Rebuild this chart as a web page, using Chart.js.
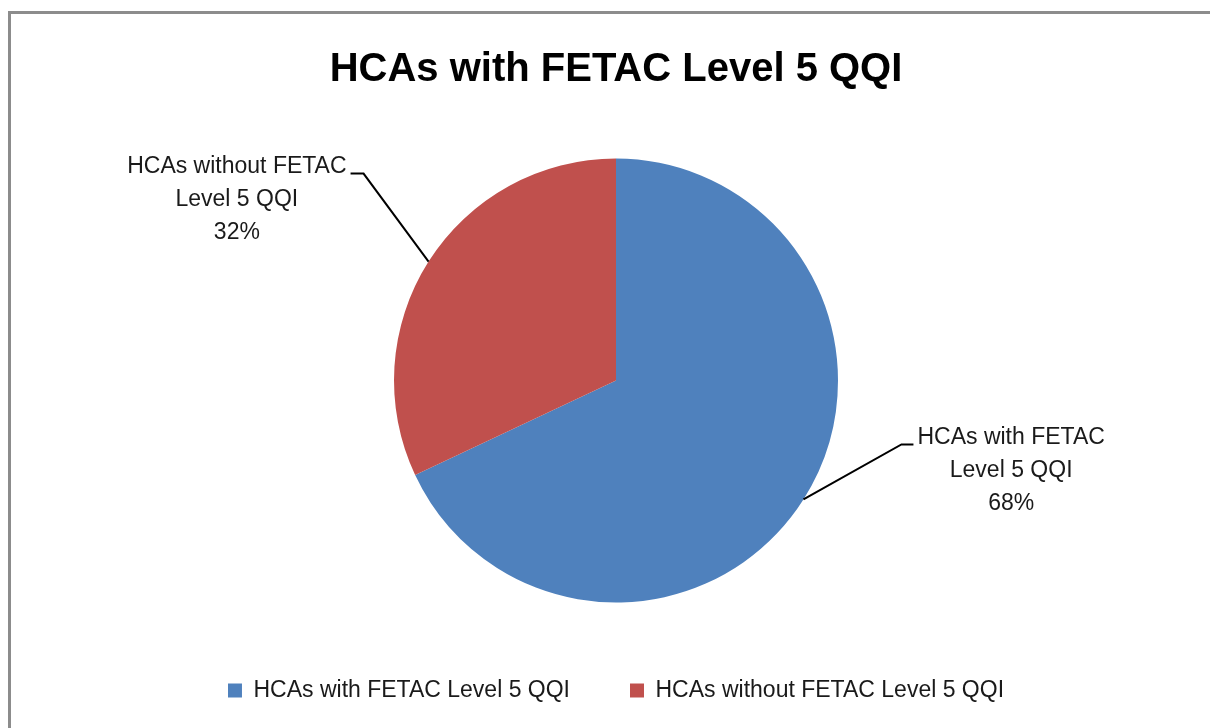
<!DOCTYPE html>
<html>
<head>
<meta charset="utf-8">
<script src="https://cdn.jsdelivr.net/npm/chart.js@4/dist/chart.umd.min.js"></script>
<style>
  html, body { margin: 0; padding: 0; overflow: hidden; background: #fff; }
  #frame {
    position: absolute; left: 8px; top: 11px;
    width: 1210px; height: 758px;
    border: 3px solid #8c8c8c;
  }
  #pieChart { display: block; }
</style>
</head>
<body>
<div id="frame">
  <canvas id="pieChart" width="1210" height="758"></canvas>
</div>
<script>
// chart data
const chartTitle = 'HCAs with FETAC Level 5 QQI';
const categories = ['HCAs with FETAC Level 5 QQI', 'HCAs without FETAC Level 5 QQI'];
const shares = [68, 32];
const sliceColors = ['#4F81BD', '#C0504D'];

const fontFamily = '"Liberation Sans", Arial, sans-serif';
const labelFont = '23px ' + fontFamily;

// word wrap helper for the data labels
function wrapText(ctx, text, maxWidth) {
  const words = text.split(' ');
  const lines = [];
  let line = '';
  words.forEach((w) => {
    const test = line ? line + ' ' + w : w;
    if (line && ctx.measureText(test).width > maxWidth) {
      lines.push(line);
      line = w;
    } else {
      line = test;
    }
  });
  if (line) lines.push(line);
  return lines;
}

// leader lines + labels outside the slices
const outsideLabels = {
  id: 'outsideLabels',
  afterDatasetsDraw(chart, args, opts) {
    const ctx = chart.ctx;
    const meta = chart.getDatasetMeta(0);
    const data = chart.data.datasets[0].data;
    const total = data.reduce((a, b) => a + b, 0);
    ctx.save();
    ctx.font = labelFont;
    meta.data.forEach((arc, i) => {
      const p = arc.getProps(['x', 'y', 'startAngle', 'endAngle', 'outerRadius'], true);
      const mid = (p.startAngle + p.endAngle) / 2;
      const ex = p.x + Math.cos(mid) * p.outerRadius;
      const ey = p.y + Math.sin(mid) * p.outerRadius;
      const o = opts.offsets[i];
      const bx = ex + o.dx, by = ey + o.dy;
      const tx = bx + o.tail;
      ctx.strokeStyle = '#000';
      ctx.lineWidth = 2;
      ctx.beginPath();
      ctx.moveTo(ex, ey);
      ctx.lineTo(bx, by);
      ctx.lineTo(tx, by);
      ctx.stroke();

      const lines = wrapText(ctx, chart.data.labels[i], 240);
      lines.push(Math.round(data[i] / total * 100) + '%');
      const maxW = Math.max(...lines.map((l) => ctx.measureText(l).width));
      const cx = o.tail < 0 ? tx - 4 - maxW / 2 : tx + 4 + maxW / 2;
      ctx.fillStyle = '#1a1a1a';
      ctx.textAlign = 'center';
      ctx.textBaseline = 'middle';
      lines.forEach((l, k) => {
        ctx.fillText(l, cx, by - 7 + k * 33);
      });
    });
    ctx.restore();
  }
};

const ctx = document.getElementById('pieChart').getContext('2d');

new Chart(ctx, {
  type: 'pie',
  data: {
    labels: categories,
    datasets: [{
      data: shares,
      backgroundColor: sliceColors,
      borderWidth: 0,
      radius: 222,
    }],
  },
  options: {
    responsive: false,
    animation: false,
    events: [],
    layout: { padding: { top: 0, bottom: 60, left: 0, right: 0 } },
    plugins: {
      title: {
        display: true,
        text: chartTitle,
        color: '#000',
        font: { family: fontFamily, size: 40, weight: 'bold' },
        padding: { top: 32, bottom: 48 },
      },
      legend: {
        position: 'bottom',
        labels: {
          color: '#1a1a1a',
          font: { family: fontFamily, size: 23 },
          boxWidth: 14,
          boxHeight: 14,
          padding: 60,
        },
      },
      tooltip: { enabled: false },
      outsideLabels: {
        offsets: [
          { dx: 98, dy: -55, tail: 12 },
          { dx: -65, dy: -88, tail: -13 },
        ],
      },
    },
  },
  plugins: [outsideLabels],
});
</script>
</body>
</html>
